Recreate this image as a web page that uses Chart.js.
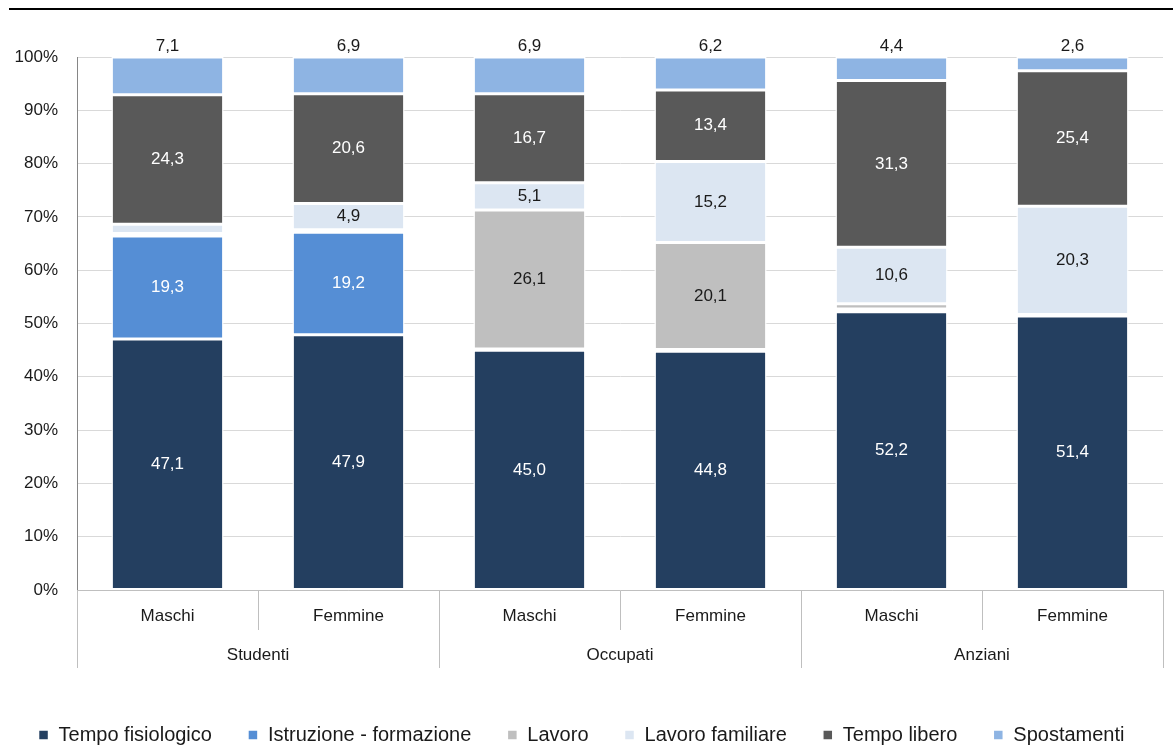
<!DOCTYPE html>
<html>
<head>
<meta charset="utf-8">
<script src="https://cdn.jsdelivr.net/npm/chart.js@4/dist/chart.umd.min.js"></script>
<style>
  body { margin: 0; background: #fff; }
  #wrap { position: relative; width: 1173px; height: 747px; }
</style>
</head>
<body>
<div id="wrap"><canvas id="grafico"></canvas></div>
<script>
// dati (valori in %)
const categorie = ['Maschi', 'Femmine', 'Maschi', 'Femmine', 'Maschi', 'Femmine'];
const gruppi = ['Studenti', 'Occupati', 'Anziani'];
const tickY = [0, 10, 20, 30, 40, 50, 60, 70, 80, 90, 100];

const tempoFisiologico = [47.1, 47.9, 45.0, 44.8, 52.2, 51.4];
const istruzione = [19.3, 19.2, 0.2, 0.3, 0.5, 0.0];
const lavoro = [0.5, 0.5, 26.1, 20.1, 1.0, 0.3];
const lavoroFamiliare = [1.7, 4.9, 5.1, 15.2, 10.6, 20.3];
const tempoLibero = [24.3, 20.6, 16.7, 13.4, 31.3, 25.4];
const spostamenti = [7.1, 6.9, 6.9, 6.2, 4.4, 2.6];

const FONT = "'Liberation Sans Narrow', 'Arial Narrow', 'Liberation Sans', sans-serif";
const fmt = v => v.toFixed(1).replace('.', ',');

// etichette dei valori dentro le barre
const etichette = {
    id: 'etichette',
    afterDatasetsDraw(chart) {
        const ctx = chart.ctx;
        ctx.save();
        ctx.font = '17px ' + FONT;
        ctx.textAlign = 'center';
        chart.data.datasets.forEach((ds, i) => {
            const meta = chart.getDatasetMeta(i);
            meta.data.forEach((bar, j) => {
                const v = ds.data[j];
                if (i === 5) {
                    ctx.fillStyle = '#1a1a1a';
                    ctx.textBaseline = 'bottom';
                    ctx.fillText(fmt(v), bar.x, bar.y - 2);
                    return;
                }
                if (v < 4) return;
                ctx.fillStyle = ds.testo;
                ctx.textBaseline = 'middle';
                ctx.fillText(fmt(v), bar.x, (bar.y + bar.base) / 2);
            });
        });
        ctx.restore();
    }
};

// asse x a due livelli + linea in alto
const assePlugin = {
    id: 'asse',
    afterDraw(chart) {
        const ctx = chart.ctx;
        const x = chart.scales.x;
        const area = chart.chartArea;
        const passo = x.getPixelForValue(1) - x.getPixelForValue(0);
        ctx.save();
        ctx.strokeStyle = '#000';
        ctx.lineWidth = 2;
        ctx.beginPath();
        ctx.moveTo(9, 9);
        ctx.lineTo(1173, 9);
        ctx.stroke();

        ctx.strokeStyle = '#bfbfbf';
        ctx.lineWidth = 1;
        ctx.font = '17px ' + FONT;
        ctx.fillStyle = '#1a1a1a';
        ctx.textAlign = 'center';
        ctx.textBaseline = 'middle';
        gruppi.forEach((g, k) => {
            const sx = x.getPixelForValue(k * 2) - passo / 2;
            const dx = x.getPixelForValue(k * 2 + 1) + passo / 2;
            [sx, dx].forEach(px => {
                ctx.beginPath();
                ctx.moveTo(Math.round(px) + 0.5, area.bottom);
                ctx.lineTo(Math.round(px) + 0.5, area.bottom + 78);
                ctx.stroke();
            });
            ctx.fillText(g, (sx + dx) / 2, area.bottom + 65);
        });
        ctx.restore();
    }
};

const colori = ['#243f60', '#558ed5', '#bfbfbf', '#dce6f2', '#595959', '#8eb4e3'];
const testi = ['#fff', '#fff', '#1a1a1a', '#1a1a1a', '#fff', '#1a1a1a'];
const nomi = ['Tempo fisiologico', 'Istruzione - formazione', 'Lavoro', 'Lavoro familiare', 'Tempo libero', 'Spostamenti'];
const serie = [tempoFisiologico, istruzione, lavoro, lavoroFamiliare, tempoLibero, spostamenti];

new Chart(document.getElementById('grafico'), {
    type: 'bar',
    data: {
        labels: categorie,
        datasets: serie.map((d, i) => ({
            label: nomi[i],
            data: d,
            backgroundColor: colori[i],
            borderColor: '#fff',
            borderWidth: 1.5,
            borderSkipped: false,
            testo: testi[i],
            categoryPercentage: 1,
            barPercentage: 0.62
        }))
    },
    options: {
        responsive: true,
        maintainAspectRatio: false,
        animation: false,
        layout: { padding: { top: 57, right: 10, left: 0, bottom: -8 } },
        plugins: {
            tooltip: { enabled: false },
            legend: {
                position: 'bottom',
                labels: {
                    font: { family: FONT, size: 20 },
                    color: '#1a1a1a',
                    boxWidth: 10,
                    boxHeight: 10,
                    padding: 36
                }
            }
        },
        scales: {
            x: {
                stacked: true,
                afterFit: s => { s.height = 99; },
                grid: {
                    offset: true,
                    drawOnChartArea: false,
                    tickLength: 40,
                    color: '#bfbfbf'
                },
                border: { color: '#bfbfbf' },
                ticks: {
                    font: { family: FONT, size: 17 },
                    color: '#1a1a1a',
                    padding: -24
                }
            },
            y: {
                stacked: true,
                min: 0,
                max: 100,
                afterFit: s => { s.width = 77; },
                afterBuildTicks: s => { s.ticks = tickY.map(v => ({ value: v })); },
                grid: { color: '#d9d9d9', drawTicks: false },
                border: { color: '#868686' },
                ticks: {
                    font: { family: FONT, size: 17 },
                    color: '#1a1a1a',
                    padding: 19,
                    callback: v => v + '%'
                }
            }
        }
    },
    plugins: [etichette, assePlugin]
});
</script>
</body>
</html>
